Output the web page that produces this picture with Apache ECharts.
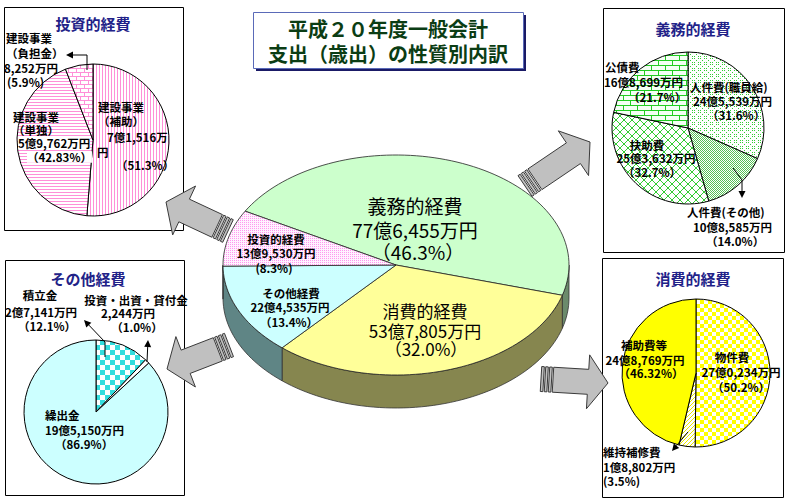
<!DOCTYPE html>
<html>
<head>
<meta charset="utf-8">
<script src="https://cdn.jsdelivr.net/npm/echarts@6/dist/echarts.min.js"></script>
<style>
html, body { margin: 0; padding: 0; background: #fff; }
#main { width: 790px; height: 500px; }
</style>
</head>
<body>
<div id="main"></div>
<script>
// data
const titleLines = ['平成２０年度一般会計', '支出（歳出）の性質別内訳'];

const mainNames = ['義務的経費', '消費的経費', 'その他経費', '投資的経費'];
const mainAmounts = ['77億6,455万円', '53億7,805万円', '22億4,535万円', '13億9,530万円'];
const mainPct = [46.3, 32.0, 13.4, 8.3];

const invNames = ['建設事業（補助）', '建設事業（単独）', '建設事業（負担金）'];
const invAmounts = ['7億1,516万', '5億9,762万円', '8,252万円'];
const invPct = [51.3, 42.83, 5.9];

const dutyNames = ['人件費（職員給）', '人件費（その他）', '扶助費', '公債費'];
const dutyAmounts = ['24億5,539万円', '10億8,585万円', '25億3,632万円', '16億8,699万円'];
const dutyPct = [31.6, 14.0, 32.7, 21.7];

const otherNames = ['積立金', '投資・出資・貸付金', '繰出金'];
const otherAmounts = ['2億7,141万円', '2,244万円', '19億5,150万円'];
const otherPct = [12.1, 1.0, 86.9];

const consNames = ['物件費', '維持補修費', '補助費等'];
const consAmounts = ['27億0,234万円', '1億8,802万円', '24億8,769万円'];
const consPct = [50.2, 3.5, 46.32];

// fill patterns
function makePat(w, h, bg, fg, draw) {
  const c = document.createElement('canvas');
  c.width = w; c.height = h;
  const g = c.getContext('2d');
  g.fillStyle = bg; g.fillRect(0, 0, w, h);
  g.fillStyle = fg;
  draw(g);
  return { image: c, repeat: 'repeat', imageWidth: w, imageHeight: h };
}
const pinkDots = makePat(2, 2, '#fff2ff', '#ff99ee', g => { g.fillRect(0, 0, 1, 1); });
const pinkV = makePat(3, 1, '#ffffff', '#ff8fd8', g => g.fillRect(0, 0, 1, 1));
const pinkH = makePat(1, 3, '#ffffff', '#ff8fd8', g => g.fillRect(0, 0, 1, 1));
const pinkBrick = makePat(8, 8, '#ffffff', '#ff8fd8', g => {
  g.fillRect(0, 0, 8, 1); g.fillRect(0, 4, 8, 1); g.fillRect(0, 0, 1, 4); g.fillRect(4, 4, 1, 4);
});
const greenDots = makePat(6, 6, '#ffffff', '#33cc33', g => {
  for (let i = 0; i < 6; i += 2) { g.fillRect(i, i, 1, 1); g.fillRect(i, (6 - i) % 6, 1, 1); }
});
const greenFine = makePat(2, 2, '#ffffff', '#55c055', g => { g.fillRect(0, 0, 1, 1); g.fillRect(1, 1, 1, 1); });
const greenCross = makePat(8, 8, '#ffffff', '#33cc33', g => {
  for (let i = 0; i < 8; i++) { g.fillRect(i, i, 1, 1); g.fillRect(i, 7 - i, 1, 1); }
});
const greenBrick = makePat(14, 10, '#f4fff4', '#22cc22', g => {
  g.fillRect(0, 0, 14, 1); g.fillRect(0, 5, 14, 1); g.fillRect(0, 0, 1, 5); g.fillRect(7, 5, 1, 5);
});
const cyanCheck = makePat(10, 10, '#ffffff', '#33dddd', g => { g.fillRect(0, 0, 5, 5); g.fillRect(5, 5, 5, 5); });
const yellowCheck = makePat(8, 8, '#ffffff', '#ffff00', g => { g.fillRect(0, 0, 4, 4); g.fillRect(4, 4, 4, 4); });
const yellowDiag = makePat(4, 4, '#ffffff', '#e8e800', g => { for (let i = 0; i < 4; i++) g.fillRect(i, 3 - i, 1, 1); });

const mainTop = ['#ccffcc', '#ffff99', '#ccffff', pinkDots];
const mainSide = ['#6b8a6b', '#86864f', '#5f8585', '#a080a0'];
const invColors = [pinkV, pinkH, pinkBrick];
const dutyColors = [greenDots, greenFine, greenCross, greenBrick];
const otherColors = [cyanCheck, '#ffffff', '#ccffff'];
const consColors = [yellowCheck, yellowDiag, '#ffff00'];

// main 3D pie geometry
const CX = 396, CY = 265, RX = 173, RY = 110, DEPTH = 33, START = -150.7;
function sliceRange(i) {
  const tot = mainPct.reduce((a, b) => a + b, 0);
  let c = 0;
  for (let k = 0; k < i; k++) c += mainPct[k];
  return [START + 360 * c / tot, START + 360 * (c + mainPct[i]) / tot];
}
function ell(t, dy) {
  const r = t * Math.PI / 180;
  return [CX + RX * Math.cos(r), CY + RY * Math.sin(r) + dy];
}
function arcPts(a1, a2, dy) {
  const n = Math.max(2, Math.ceil(Math.abs(a2 - a1) / 2));
  const p = [];
  for (let j = 0; j <= n; j++) p.push(ell(a1 + (a2 - a1) * j / n, dy));
  return p;
}
function topItem(params) {
  const i = params.dataIndex;
  const [a1, a2] = sliceRange(i);
  return {
    type: 'polygon',
    shape: { points: [[CX, CY]].concat(arcPts(a1, a2, 0)) },
    style: { fill: mainTop[i], stroke: '#222', lineWidth: 0.8 }
  };
}
function sideItem(params) {
  const i = params.dataIndex;
  const [a1, a2] = sliceRange(i);
  const parts = [];
  for (const k of [-360, 0, 360]) {
    const b1 = Math.max(a1, k), b2 = Math.min(a2, k + 180);
    if (b2 > b1) {
      parts.push({
        type: 'polygon',
        shape: { points: arcPts(b1, b2, 0).concat(arcPts(b2, b1, DEPTH)) },
        style: { fill: mainSide[i], stroke: '#333', lineWidth: 0.8 }
      });
    }
  }
  return { type: 'group', children: parts };
}

function smallPie(vals, names, colors, center, r) {
  return {
    type: 'pie', silent: true, center: center, radius: r, startAngle: 90,
    label: { show: false }, labelLine: { show: false },
    itemStyle: { borderColor: '#000', borderWidth: 1 },
    data: vals.map((v, i) => ({ value: v, name: names[i], itemStyle: { color: colors[i] } }))
  };
}

// text helpers
const FF = '"Noto Sans CJK JP", "Noto Sans", sans-serif';
function T(x, y, text, o) {
  o = o || {};
  const style = {
    text: text, x: 0, y: 0,
    fontFamily: FF, fontSize: o.size || 11.5, fontWeight: o.weight || 'bold',
    fill: o.color || '#000',
    textAlign: o.align || 'left', align: o.align || 'left',
    textVerticalAlign: 'middle', verticalAlign: 'middle'
  };
  if (o.bg) { style.backgroundColor = o.bg; }
  return { type: 'text', x: x, y: y, z: 100, style: style };
}
const C = { align: 'center' };
const boxTitle = { align: 'center', size: 15, color: '#222288' };
function nameLines(s) { const i = s.indexOf('（'); return i < 0 ? [s] : [s.slice(0, i), s.slice(i)]; }
function half(s) { return s.replace('（', '(').replace('）', ')'); }
function pnum(p) { let s = p.toFixed(2); if (s.endsWith('0')) s = s.slice(0, -1); return s; }
function pf(p) { return '（' + pnum(p) + '%）'; }
function pfh(p) { return '(' + pnum(p) + '%)'; }

function box(x, y, w, h) {
  return { type: 'rect', z: 0, shape: { x: x + 0.5, y: y + 0.5, width: w, height: h }, style: { fill: '#fff', stroke: '#000', lineWidth: 1 } };
}

function bigArrow(T0, P) {
  const dx = P[0] - T0[0], dy = P[1] - T0[1], L = Math.hypot(dx, dy);
  const u = [dx / L, dy / L], n = [-u[1], u[0]];
  const w = 12.5, hw = 27, hl = 20, tl = 12;
  const at = (s, o) => [T0[0] + u[0] * s + n[0] * o, T0[1] + u[1] * s + n[1] * o];
  const st = { fill: '#c0c0c0', stroke: '#3a3a3a', lineWidth: 1 };
  const els = [{ type: 'polygon', z: 5, shape: { points: [at(tl, w), at(L - hl, w), at(L - hl, hw), at(L, 0), at(L - hl, -hw), at(L - hl, -w), at(tl, -w)] }, style: st }];
  for (const s of [0, 4, 8]) {
    els.push({ type: 'polygon', z: 5, shape: { points: [at(s, w), at(s + 2.6, w), at(s + 2.6, -w), at(s, -w)] }, style: st });
  }
  return els;
}

function smallArrow(pts) {
  const a = pts[pts.length - 2], b = pts[pts.length - 1];
  const dx = b[0] - a[0], dy = b[1] - a[1], L = Math.hypot(dx, dy);
  const u = [dx / L, dy / L], n = [-u[1], u[0]];
  const hl = 7, hw = 3.5;
  const base = [b[0] - u[0] * hl, b[1] - u[1] * hl];
  return [
    { type: 'polyline', z: 90, shape: { points: pts.slice(0, -1).concat([base]) }, style: { stroke: '#000', lineWidth: 1, fill: null } },
    { type: 'polygon', z: 90, shape: { points: [b, [base[0] + n[0] * hw, base[1] + n[1] * hw], [base[0] - n[0] * hw, base[1] - n[1] * hw]] }, style: { fill: '#000' } }
  ];
}

const inv0 = nameLines(invNames[0]), inv1 = nameLines(invNames[1]), inv2 = nameLines(invNames[2]);

const graphic = [
  box(4, 7, 179, 223),
  box(603, 8, 181, 244),
  box(5, 260, 179, 235),
  box(602, 258, 181, 239),
  // title box
  { type: 'rect', z: 1, shape: { x: 256, y: 15, width: 270, height: 56 }, style: { fill: '#1a1a66' } },
  { type: 'rect', z: 2, shape: { x: 253.5, y: 12.5, width: 270, height: 56 }, style: { fill: '#fff', stroke: '#5a6ab8', lineWidth: 1 } },
  T(388, 28, titleLines[0], { align: 'center', size: 20, color: '#0b3d14' }),
  T(388, 53, titleLines[1], { align: 'center', size: 20, color: '#0b3d14' }),

  ...bigArrow([228, 231], [166, 202]),
  ...bigArrow([525, 186], [590, 142]),
  ...bigArrow([229, 345], [167, 369]),
  ...bigArrow([541, 379], [608, 383]),

  // main pie labels
  T(415, 205, mainNames[0], { align: 'center', size: 19, weight: 'normal' }),
  T(415, 229, mainAmounts[0], { align: 'center', size: 19, weight: 'normal' }),
  T(418, 251, pf(mainPct[0]), { align: 'center', size: 19, weight: 'normal' }),
  T(425, 310, mainNames[1], { align: 'center', size: 17, weight: 'normal' }),
  T(425, 330, mainAmounts[1], { align: 'center', size: 17, weight: 'normal' }),
  T(426, 348, pf(mainPct[1]), { align: 'center', size: 17, weight: 'normal' }),
  T(276, 239, mainNames[3], C),
  T(276, 253, mainAmounts[3], C),
  T(274, 268, pfh(mainPct[3]), C),
  T(291, 293, mainNames[2], C),
  T(290, 307, mainAmounts[2], C),
  T(289, 322, pf(mainPct[2]), C),

  // 投資的経費 box
  T(93, 23, mainNames[3], boxTitle),
  T(6, 38, inv2[0]), T(6, 53, inv2[1]), T(4, 68, invAmounts[2]), T(7, 82, pfh(invPct[2])),
  T(98, 107, inv0[0]), T(98, 121, inv0[1]), T(107, 137, invAmounts[0]), T(116, 165, pf(invPct[0])),
  T(13, 117, inv1[0]), T(13, 130, inv1[1]),
  T(18, 143, invAmounts[1], { bg: '#fff' }), T(27, 157, pf(invPct[1]), { bg: '#fff' }),
  T(97, 152, '円'),
  ...smallArrow([[87, 70], [87, 55], [66, 55]]),

  // 義務的経費 box
  T(693, 28, mainNames[0], boxTitle),
  T(605, 67, dutyNames[3]), T(604, 82, dutyAmounts[3]), T(628, 97, pf(dutyPct[3])),
  T(690, 87, half(dutyNames[0])), T(693, 101, dutyAmounts[0]), T(707, 115, pf(dutyPct[0])),
  T(647, 145, dutyNames[2], C), T(656, 158, dutyAmounts[2], C), T(652, 172, pf(dutyPct[2]), C),
  T(687, 212, half(dutyNames[1])), T(693, 227, dutyAmounts[1]), T(706, 241, pf(dutyPct[1])),
  ...smallArrow([[733, 168], [742, 180], [742, 198]]),

  // その他経費 box
  T(88, 278, mainNames[2], boxTitle),
  T(40, 295, otherNames[0], C), T(41, 312, otherAmounts[0], C), T(47, 326, pf(otherPct[0]), C),
  T(136, 300, half(otherNames[1]), C), T(128, 313, otherAmounts[1], C), T(137, 327, pf(otherPct[1]), C),
  T(45, 415, otherNames[2]), T(45, 430, otherAmounts[2]), T(55, 444, pf(otherPct[2])),
  ...smallArrow([[105, 357], [105, 342], [84, 320]]),
  ...smallArrow([[147, 362], [148, 340]]),

  // 消費的経費 box
  T(693, 278, mainNames[1], boxTitle),
  T(644, 345, consNames[2], C), T(645, 360, consAmounts[2], C), T(651, 373, pf(consPct[2]), C),
  T(732, 357, consNames[0], C), T(741, 372, consAmounts[0], C), T(741, 387, pf(consPct[0]), C),
  T(603, 452, consNames[1]), T(603, 467, consAmounts[1]), T(603, 481, pfh(consPct[1])),
  ...smallArrow([[688, 432], [672, 451]])
];

const chart = echarts.init(document.getElementById('main'), null, { renderer: 'svg' });
chart.setOption({
  animation: false,
  series: [
    { type: 'custom', coordinateSystem: 'none', silent: true, z: 2, data: mainPct, renderItem: sideItem },
    { type: 'custom', coordinateSystem: 'none', silent: true, z: 3, data: mainPct, renderItem: topItem },
    smallPie(invPct, invNames, invColors, [93, 140], 76),
    smallPie(dutyPct, dutyNames, dutyColors, [688, 128], 76),
    smallPie(otherPct, otherNames, otherColors, [96, 412], 72),
    smallPie(consPct, consNames, consColors, [696, 373], 74)
  ],
  graphic: graphic
});
</script>
</body>
</html>
